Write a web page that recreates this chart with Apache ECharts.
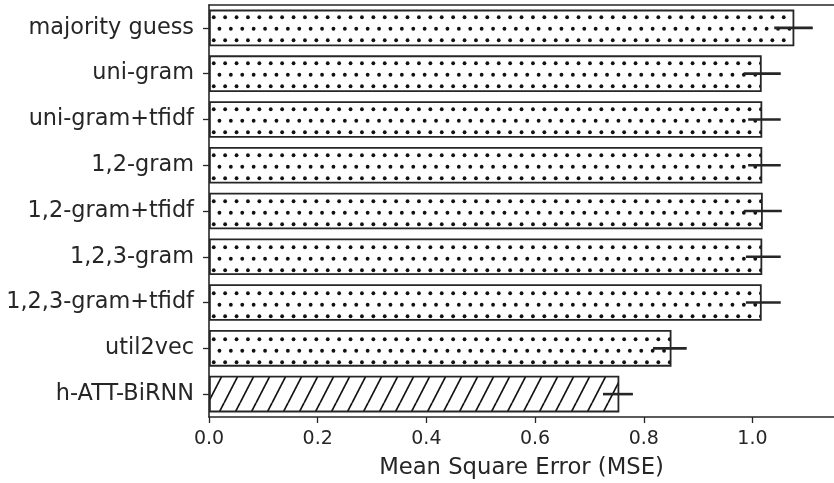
<!DOCTYPE html>
<html>
<head>
<meta charset="utf-8">
<script src="https://cdn.jsdelivr.net/npm/echarts@6/dist/echarts.min.js"></script>
<style>
  html, body { margin: 0; padding: 0; background: #fff; }
  #chart { width: 834px; height: 483px; }
</style>
</head>
<body>
<div id="chart"></div>
<script>
var categories = ['majority guess', 'uni-gram', 'uni-gram+tfidf', '1,2-gram', '1,2-gram+tfidf',
    '1,2,3-gram', '1,2,3-gram+tfidf', 'util2vec', 'h-ATT-BiRNN'];
var mse = [1.077, 1.017, 1.018, 1.018, 1.019, 1.018, 1.017, 0.851, 0.755];
var errLow = [1.040, 0.984, 0.992, 0.992, 0.984, 0.988, 0.988, 0.817, 0.725];
var errHigh = [1.111, 1.052, 1.052, 1.052, 1.054, 1.052, 1.052, 0.879, 0.780];
var xTicks = [0, 0.2, 0.4, 0.6, 0.8, 1.0];

var ink = '#262626';

// dotted fill (staggered rows)
function dotPattern() {
    var c = document.createElement('canvas');
    c.width = 57; c.height = 23;
    var ctx = c.getContext('2d');
    ctx.fillStyle = '#fff';
    ctx.fillRect(0, 0, c.width, c.height);
    ctx.fillStyle = '#111';
    for (var i = 0; i < 5; i++) {
        ctx.beginPath();
        ctx.arc(11.4 * i + 2.85, 5.75, 1.9, 0, Math.PI * 2);
        ctx.fill();
        ctx.beginPath();
        ctx.arc(11.4 * i + 8.55, 17.25, 1.9, 0, Math.PI * 2);
        ctx.fill();
    }
    return c;
}

// '/' hatch fill
function hatchPattern() {
    var c = document.createElement('canvas');
    c.width = 16; c.height = 31;
    var ctx = c.getContext('2d');
    ctx.fillStyle = '#fff';
    ctx.fillRect(0, 0, c.width, c.height);
    ctx.strokeStyle = '#111';
    ctx.lineWidth = 1.7;
    [-16, 0, 16].forEach(function (dx) {
        ctx.beginPath();
        ctx.moveTo(dx, 31);
        ctx.lineTo(dx + 16, 0);
        ctx.stroke();
    });
    return c;
}

var dots = { image: dotPattern(), repeat: 'repeat' };
var hatch = { image: hatchPattern(), repeat: 'repeat' };

var barData = mse.map(function (v, i) {
    return {
        value: v,
        itemStyle: { color: i === mse.length - 1 ? hatch : dots }
    };
});
var errData = categories.map(function (c, i) {
    return [errLow[i], errHigh[i], i];
});

var myChart = echarts.init(document.getElementById('chart'));
var option = {
    animation: false,
    grid: { left: 209, top: 5, right: 0, bottom: 66, outerBoundsMode: 'none', containLabel: false },
    xAxis: [{
        type: 'value', min: 0, max: 1.15, interval: 0.2,
        name: 'Mean Square Error (MSE)', nameLocation: 'middle', nameGap: 40,
        nameTextStyle: { fontFamily: 'DejaVu Sans', fontSize: 22.7, color: ink },
        axisLine: { show: true, lineStyle: { color: ink, width: 1.6 } },
        axisTick: { show: true, length: 6, customValues: xTicks, lineStyle: { color: ink, width: 1.3 } },
        axisLabel: {
            margin: 13, fontFamily: 'DejaVu Sans', fontSize: 19, color: ink,
            customValues: xTicks,
            formatter: function (v) { return v.toFixed(1); }
        },
        splitLine: { show: false }
    }, {
        type: 'value', min: 0, max: 1.15, position: 'top',
        axisLine: { show: true, lineStyle: { color: ink, width: 1.6 } },
        axisTick: { show: false }, axisLabel: { show: false }, splitLine: { show: false }
    }],
    yAxis: {
        type: 'category', data: categories, inverse: true,
        axisLine: { show: true, lineStyle: { color: ink, width: 1.6 } },
        axisTick: { show: true, alignWithLabel: true, length: 6, lineStyle: { color: ink, width: 1.3 } },
        axisLabel: { margin: 15, fontFamily: 'DejaVu Sans', fontSize: 22.4, color: ink }
    },
    series: [
        {
            type: 'bar',
            data: barData,
            barCategoryGap: '20%',
            itemStyle: { borderColor: ink, borderWidth: 1.8 }
        },
        {
            type: 'custom',
            data: errData,
            encode: { x: [0, 1], y: 2 },
            z: 10,
            renderItem: function (params, api) {
                var a = api.coord([api.value(0), api.value(2)]);
                var b = api.coord([api.value(1), api.value(2)]);
                return {
                    type: 'line',
                    shape: { x1: a[0], y1: a[1], x2: b[0], y2: b[1] },
                    style: { stroke: ink, lineWidth: 2.6 }
                };
            }
        }
    ]
};
myChart.setOption(option);
</script>
</body>
</html>
